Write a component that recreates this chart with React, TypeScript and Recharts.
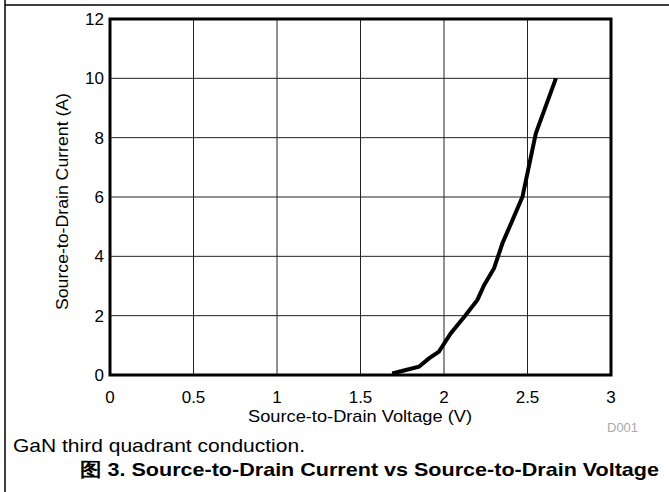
import { LineChart, Line, XAxis, YAxis, CartesianGrid, ReferenceArea } from "recharts";

// source-to-drain voltage (V) vs current (A)
const voltage = [1.69, 1.76, 1.85, 1.91, 1.97, 2.04, 2.13, 2.2, 2.24, 2.3, 2.35, 2.41, 2.47, 2.55, 2.67];
const current = [0.05, 0.15, 0.28, 0.56, 0.79, 1.4, 2.02, 2.53, 3.03, 3.6, 4.44, 5.22, 6.01, 8.15, 10.0];

const xTicks = [0, 0.5, 1, 1.5, 2, 2.5, 3];
const yTicks = [0, 2, 4, 6, 8, 10, 12];

const data = voltage.map((v, i) => ({ v, i: current[i] }));

const FONT = "'Liberation Sans', Arial, sans-serif";

export default function App() {
  return (
    <div style={{ position: "absolute", left: 0, top: 0, width: 669, height: 492, background: "#fff", fontFamily: FONT }}>
      <LineChart width={669} height={492} data={data} margin={{ top: 19, right: 58, left: 0, bottom: 0 }}>
        <CartesianGrid stroke="#222" strokeWidth={1} />
        <XAxis
          dataKey="v"
          type="number"
          domain={[0, 3]}
          ticks={xTicks}
          height={117}
          axisLine={false}
          tickLine={false}
          tickMargin={10}
          tick={{ fill: "#000", fontSize: 17, fontFamily: FONT }}
          interval={0}
        />
        <YAxis
          type="number"
          domain={[0, 12]}
          ticks={yTicks}
          width={110}
          axisLine={false}
          tickLine={false}
          tickMargin={0}
          tick={{ fill: "#000", fontSize: 17, fontFamily: FONT }}
          interval={0}
        />
        <ReferenceArea x1={0} x2={3} y1={0} y2={12} fill="none" stroke="#000" strokeWidth={3} ifOverflow="visible" />
        <Line dataKey="i" type="linear" stroke="#000" strokeWidth={4} dot={false} isAnimationActive={false} />
      </LineChart>
      <svg width={669} height={492} style={{ position: "absolute", left: 0, top: 0, pointerEvents: "none" }}>
        <line x1={5} y1={0} x2={5} y2={492} stroke="#000" strokeWidth={1.5} />
        <line x1={5} y1={5} x2={669} y2={5} stroke="#000" strokeWidth={1.5} />
        <text x={68} y={201.5} transform="rotate(-90 68 201.5)" textAnchor="middle" fontSize={16} textLength={217} lengthAdjust="spacingAndGlyphs" fontFamily={FONT}>
          Source-to-Drain Current (A)
        </text>
        <text x={360} y={422} textAnchor="middle" fontSize={17} textLength={224} lengthAdjust="spacingAndGlyphs" fontFamily={FONT}>
          Source-to-Drain Voltage (V)
        </text>
        <text x={607} y={432} fontSize={13} fill="#aaa" fontFamily={FONT}>
          D001
        </text>
        <text x={13} y={452} fontSize={19} textLength={292} lengthAdjust="spacingAndGlyphs" fontFamily={FONT}>
          GaN third quadrant conduction.
        </text>
        <text x={80} y={476} fontSize={19} fontWeight="bold" textLength={579} lengthAdjust="spacingAndGlyphs" fontFamily={FONT}>
          图 3. Source-to-Drain Current vs Source-to-Drain Voltage
        </text>
      </svg>
    </div>
  );
}
